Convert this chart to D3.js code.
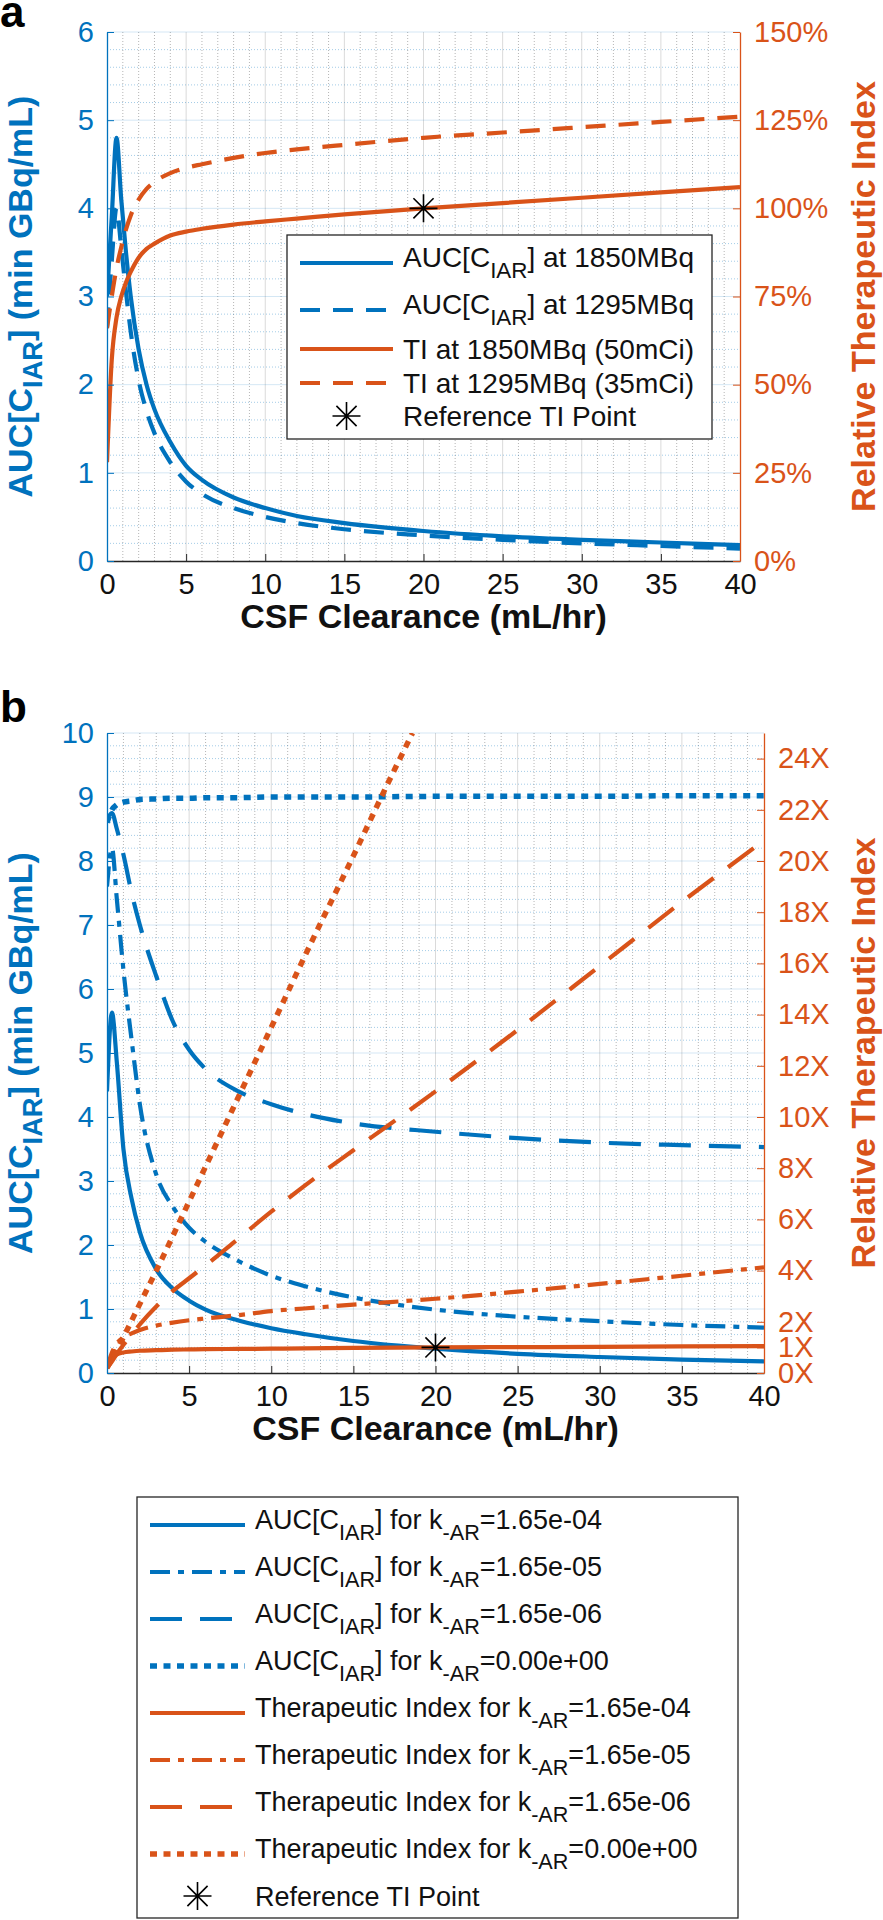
<!DOCTYPE html>
<html>
<head>
<meta charset="utf-8">
<script src="https://cdn.jsdelivr.net/npm/d3@7"></script>
<style>
  body { margin: 0; background: #fff; }
  svg { display: block; font-family: "Liberation Sans", Arial, Helvetica, sans-serif; }
</style>
</head>
<body>
<div id="chart"></div>
<script>
// ---------- panel a data (CSF clearance in mL/hr) ----------
const clearanceA = [0, 0.3, 0.6, 0.9, 1.2, 1.5, 2, 2.5, 3, 4, 5, 6, 8, 10, 12, 15, 20, 25, 30, 35, 40];
const auc1850 = [3.0, 3.9, 4.8, 4.1, 3.5, 3.0, 2.4, 2.0, 1.72, 1.35, 1.08, 0.92, 0.72, 0.6, 0.51, 0.43, 0.34, 0.28, 0.24, 0.21, 0.18];
const auc1295 = [2.65, 3.4, 4.0, 3.55, 3.05, 2.6, 2.05, 1.7, 1.45, 1.12, 0.9, 0.76, 0.6, 0.5, 0.43, 0.36, 0.29, 0.24, 0.2, 0.17, 0.14];
const ti1850 = [28, 57, 69, 75, 79, 82, 86, 88.5, 90, 92.3, 93.4, 94.2, 95.4, 96.3, 97.1, 98.3, 100, 101.5, 103, 104.5, 106];
const ti1295 = [66, 75, 83, 89, 94, 98, 102.5, 105.5, 107.5, 110, 111.5, 112.5, 114.3, 115.7, 116.7, 118, 120, 121.5, 123, 124.5, 126];
const refPointA = [20, 100];

// ---------- panel b data ----------
const clearanceB = [0, 0.3, 0.6, 1, 1.5, 2, 3, 4, 5, 6, 8, 10, 12, 15, 20, 25, 30, 35, 40];
const aucK4 = [4.4, 5.63, 4.85, 3.5, 2.72, 2.2, 1.62, 1.32, 1.13, 0.99, 0.82, 0.7, 0.61, 0.5, 0.38, 0.3, 0.25, 0.21, 0.18];
const aucK5 = [7.6, 8.2, 7.4, 6.3, 5.2, 4.2, 3.1, 2.6, 2.27, 2.05, 1.75, 1.52, 1.36, 1.18, 0.99, 0.88, 0.81, 0.75, 0.71];
const aucK6 = [8.65, 8.75, 8.5, 8.1, 7.5, 7.0, 6.2, 5.5, 5.05, 4.75, 4.4, 4.2, 4.05, 3.9, 3.77, 3.67, 3.6, 3.56, 3.53];
const aucK0 = [8.6, 8.8, 8.88, 8.92, 8.94, 8.96, 8.97, 8.98, 8.98, 8.99, 8.99, 9.0, 9.0, 9.0, 9.01, 9.01, 9.01, 9.02, 9.02];
const tiK4 = [0.2, 0.55, 0.72, 0.8, 0.84, 0.87, 0.89, 0.91, 0.92, 0.93, 0.94, 0.95, 0.96, 0.98, 1.0, 1.01, 1.02, 1.04, 1.05];
const tiK5 = [0.2, 0.8, 1.15, 1.4, 1.55, 1.68, 1.85, 1.97, 2.06, 2.13, 2.26, 2.42, 2.52, 2.67, 2.9, 3.18, 3.48, 3.8, 4.13];
const tiK6 = [0.2, 0.45, 0.75, 1.1, 1.5, 1.9, 2.6, 3.2, 3.7, 4.2, 5.25, 6.3, 7.3, 8.7, 11.0, 13.4, 15.9, 18.4, 20.8];
const clearanceK0 = [0, 1, 2, 3, 5, 7.5, 10, 12.5, 15, 17, 18.6];
const tiK0 = [0.2, 1.4, 2.7, 4.0, 6.7, 10.1, 13.5, 16.9, 20.2, 22.9, 25.0];
const refPointB = [20, 1];

// ---------- tick labels ----------
const xTicks = [0, 5, 10, 15, 20, 25, 30, 35, 40];
const yTicksA = [0, 1, 2, 3, 4, 5, 6];
const rTicksA = [0, 25, 50, 75, 100, 125, 150];
const yTicksB = [0, 1, 2, 3, 4, 5, 6, 7, 8, 9, 10];
const rTicksB = [0, 1, 2, 4, 6, 8, 10, 12, 14, 16, 18, 20, 22, 24];

const BLUE = "#0072BD";
const ORANGE = "#D95319";
const INK = "#111";

const svg = d3.select("#chart").append("svg")
    .attr("width", 883)
    .attr("height", 1920);

// line styles
const styles = {
    solid: { dash: null, width: 4.2 },
    dashA: { dash: "20,13", width: 4.2 },
    dashB: { dash: "32,18", width: 4.2 },
    dashDot: { dash: "20,8,6,8", width: 4.2 },
    dotted: { dash: "7,6.5", width: 5.5 }
};

// write text with subscript parts: [["AUC[C"], ["IAR", true], ["]"]]
function richText(sel, parts, shift) {
    let down = false;
    parts.forEach(([t, sub]) => {
        const ts = sel.append("tspan").text(t);
        if (sub && !down) { ts.attr("dy", shift).attr("font-size", "0.8em"); down = true; }
        else if (sub) { ts.attr("font-size", "0.8em"); }
        else if (down) { ts.attr("dy", -shift); down = false; }
    });
}

function asterisk(g, cx, cy, r) {
    const d = r * 0.72;
    g.append("path")
        .attr("d", `M${cx - r},${cy}H${cx + r}M${cx},${cy - r}V${cy + r}` +
            `M${cx - d},${cy - d}L${cx + d},${cy + d}M${cx - d},${cy + d}L${cx + d},${cy - d}`)
        .attr("stroke", "#000")
        .attr("stroke-width", 1.6)
        .attr("fill", "none");
}

function drawPanel(p) {
    const g = svg.append("g");
    const x = d3.scaleLinear().domain([0, 40]).range([p.left, p.right]);
    const yL = d3.scaleLinear().domain([0, p.yMax]).range([p.bottom, p.top]);
    const yR = d3.scaleLinear().domain([0, p.rMax]).range([p.bottom, p.top]);

    // panel letter
    g.append("text").attr("x", 0).attr("y", p.letterY)
        .attr("font-size", 44).attr("font-weight", "bold").attr("fill", "#000")
        .text(p.letter);

    // minor grid
    g.append("g").selectAll("line")
        .data(d3.range(1, 40).filter(v => v % 5 !== 0))
        .join("line")
        .attr("x1", d => x(d)).attr("x2", d => x(d))
        .attr("y1", p.top).attr("y2", p.bottom)
        .attr("stroke", "rgba(38,38,38,0.34)").attr("stroke-dasharray", "1,2");
    g.append("g").selectAll("line")
        .data(d3.range(1, p.yMax * 5).filter(i => i % 5 !== 0).map(i => i / 5))
        .join("line")
        .attr("x1", p.left).attr("x2", p.right)
        .attr("y1", d => yL(d)).attr("y2", d => yL(d))
        .attr("stroke", "rgba(0,114,189,0.36)").attr("stroke-dasharray", "1,2");

    // major grid
    g.append("g").selectAll("line")
        .data(xTicks.slice(1, -1))
        .join("line")
        .attr("x1", d => x(d)).attr("x2", d => x(d))
        .attr("y1", p.top).attr("y2", p.bottom)
        .attr("stroke", "rgba(38,38,38,0.17)");
    g.append("g").selectAll("line")
        .data(p.yTicks.slice(1))
        .join("line")
        .attr("x1", p.left).attr("x2", p.right)
        .attr("y1", d => yL(d)).attr("y2", d => yL(d))
        .attr("stroke", "rgba(0,114,189,0.17)");

    // series
    const clipId = "clip-" + p.letter;
    svg.append("clipPath").attr("id", clipId).append("rect")
        .attr("x", p.left).attr("y", p.top)
        .attr("width", p.right - p.left).attr("height", p.bottom - p.top);

    const lines = g.append("g").attr("clip-path", `url(#${clipId})`);
    p.series.forEach(s => {
        const ys = s.axis === "L" ? yL : yR;
        const pts = s.x.map((v, i) => [v, s.y[i]]);
        const line = d3.line()
            .x(d => x(d[0]))
            .y(d => ys(d[1]))
            .curve(d3.curveMonotoneX);
        lines.append("path")
            .datum(pts)
            .attr("d", line)
            .attr("fill", "none")
            .attr("stroke", s.color)
            .attr("stroke-width", styles[s.style].width)
            .attr("stroke-dasharray", styles[s.style].dash)
            .attr("stroke-linejoin", "round");
    });
    asterisk(g, x(p.ref[0]), yR(p.ref[1]), 14);

    // axes
    const fs = 29;
    const xAxis = g.append("g")
        .attr("transform", `translate(0,${p.bottom})`)
        .call(d3.axisBottom(x).tickValues(xTicks).tickSize(-7).tickSizeOuter(0).tickPadding(0));
    xAxis.select(".domain").attr("stroke", "#262626").attr("stroke-width", 1.3);
    xAxis.selectAll(".tick line").attr("stroke", "#262626");
    xAxis.selectAll(".tick text")
        .attr("y", 33).attr("dy", null)
        .attr("font-size", fs).attr("font-family", null).attr("fill", INK);

    const leftAxis = g.append("g")
        .attr("transform", `translate(${p.left},0)`)
        .call(d3.axisLeft(yL).tickValues(p.yTicks).tickFormat(d3.format("d"))
            .tickSize(-7).tickSizeOuter(0).tickPadding(13));
    leftAxis.select(".domain").attr("stroke", BLUE).attr("stroke-width", 1.3);
    leftAxis.selectAll(".tick line").attr("stroke", BLUE);
    leftAxis.selectAll(".tick text")
        .attr("font-size", fs).attr("font-family", null).attr("fill", BLUE);

    const rightAxis = g.append("g")
        .attr("transform", `translate(${p.right},0)`)
        .call(d3.axisRight(yR).tickValues(p.rTicks).tickFormat(p.rFormat)
            .tickSize(-7).tickSizeOuter(0).tickPadding(14));
    rightAxis.select(".domain").attr("stroke", ORANGE).attr("stroke-width", 1.3);
    rightAxis.selectAll(".tick line").attr("stroke", ORANGE);
    rightAxis.selectAll(".tick text")
        .attr("font-size", fs).attr("font-family", null).attr("fill", ORANGE);

    // axis titles
    g.append("text")
        .attr("x", (p.left + p.right) / 2).attr("y", p.bottom + 67)
        .attr("text-anchor", "middle").attr("font-size", 34).attr("font-weight", "bold")
        .attr("fill", INK)
        .text("CSF Clearance (mL/hr)");
    const mid = (p.top + p.bottom) / 2;
    const yTitle = g.append("text")
        .attr("transform", `translate(32,${mid}) rotate(-90)`)
        .attr("text-anchor", "middle").attr("font-size", 34).attr("font-weight", "bold")
        .attr("fill", BLUE);
    richText(yTitle, [["AUC[C"], ["IAR", true], ["] (min GBq/mL)"]], 10);
    g.append("text")
        .attr("transform", `translate(875,${mid}) rotate(-90)`)
        .attr("text-anchor", "middle").attr("font-size", 34).attr("font-weight", "bold")
        .attr("fill", ORANGE)
        .text("Relative Therapeutic Index");

    // legend
    const L = p.legend;
    const lg = svg.append("g");
    lg.append("rect")
        .attr("x", L.x).attr("y", L.y).attr("width", L.w).attr("height", L.h)
        .attr("fill", "#fff").attr("stroke", "#262626").attr("stroke-width", 1.3);
    L.entries.forEach((e, i) => {
        const ry = L.rows[i];
        if (e.series) {
            const st = styles[e.series.style];
            lg.append("line")
                .attr("x1", L.sx0).attr("x2", L.sx1).attr("y1", ry).attr("y2", ry)
                .attr("stroke", e.series.color)
                .attr("stroke-width", st.width)
                .attr("stroke-dasharray", st.dash);
        } else {
            asterisk(lg, (L.sx0 + L.sx1) / 2, ry, 14);
        }
        const hasSub = e.label.some(d => d[1]);
        const t = lg.append("text")
            .attr("x", L.tx).attr("y", ry + (hasSub ? 4 : 10))
            .attr("font-size", L.fs).attr("fill", INK);
        richText(t, e.label, 11);
    });
}

// ---------- panel a ----------
const seriesA = [
    { x: clearanceA, y: auc1850, axis: "L", color: BLUE, style: "solid" },
    { x: clearanceA, y: auc1295, axis: "L", color: BLUE, style: "dashA" },
    { x: clearanceA, y: ti1850, axis: "R", color: ORANGE, style: "solid" },
    { x: clearanceA, y: ti1295, axis: "R", color: ORANGE, style: "dashA" }
];
drawPanel({
    letter: "a", letterY: 27,
    left: 107, right: 740, top: 32, bottom: 561,
    yMax: 6, yTicks: yTicksA, rMax: 150, rTicks: rTicksA, rFormat: d => d + "%",
    series: seriesA, ref: refPointA,
    legend: {
        x: 287, y: 235, w: 425, h: 204, sx0: 300, sx1: 393, tx: 403, fs: 28,
        rows: [263, 310, 349, 383, 416],
        entries: [
            { series: seriesA[0], label: [["AUC[C"], ["IAR", true], ["] at 1850MBq"]] },
            { series: seriesA[1], label: [["AUC[C"], ["IAR", true], ["] at 1295MBq"]] },
            { series: seriesA[2], label: [["TI at 1850MBq (50mCi)"]] },
            { series: seriesA[3], label: [["TI at 1295MBq (35mCi)"]] },
            { series: null, label: [["Reference TI Point"]] }
        ]
    }
});

// ---------- panel b ----------
const seriesB = [
    { x: clearanceB, y: aucK4, axis: "L", color: BLUE, style: "solid" },
    { x: clearanceB, y: aucK5, axis: "L", color: BLUE, style: "dashDot" },
    { x: clearanceB, y: aucK6, axis: "L", color: BLUE, style: "dashB" },
    { x: clearanceB, y: aucK0, axis: "L", color: BLUE, style: "dotted" },
    { x: clearanceB, y: tiK4, axis: "R", color: ORANGE, style: "solid" },
    { x: clearanceB, y: tiK5, axis: "R", color: ORANGE, style: "dashDot" },
    { x: clearanceB, y: tiK6, axis: "R", color: ORANGE, style: "dashB" },
    { x: clearanceK0, y: tiK0, axis: "R", color: ORANGE, style: "dotted" }
];
const kLabels = ["1.65e-04", "1.65e-05", "1.65e-06", "0.00e+00"];
drawPanel({
    letter: "b", letterY: 722,
    left: 107, right: 764, top: 733, bottom: 1373,
    yMax: 10, yTicks: yTicksB, rMax: 25, rTicks: rTicksB, rFormat: d => d + "X",
    series: seriesB, ref: refPointB,
    legend: {
        x: 137, y: 1497, w: 601, h: 421, sx0: 150, sx1: 245, tx: 255, fs: 27,
        rows: [1525, 1572, 1619, 1666, 1713, 1760, 1807, 1854, 1896],
        entries: [
            ...kLabels.map((k, i) => ({ series: seriesB[i], label: [["AUC[C"], ["IAR", true], ["] for k"], ["-AR", true], ["=" + k]] })),
            ...kLabels.map((k, i) => ({ series: seriesB[i + 4], label: [["Therapeutic Index for k"], ["-AR", true], ["=" + k]] })),
            { series: null, label: [["Reference TI Point"]] }
        ]
    }
});
</script>
</body>
</html>
